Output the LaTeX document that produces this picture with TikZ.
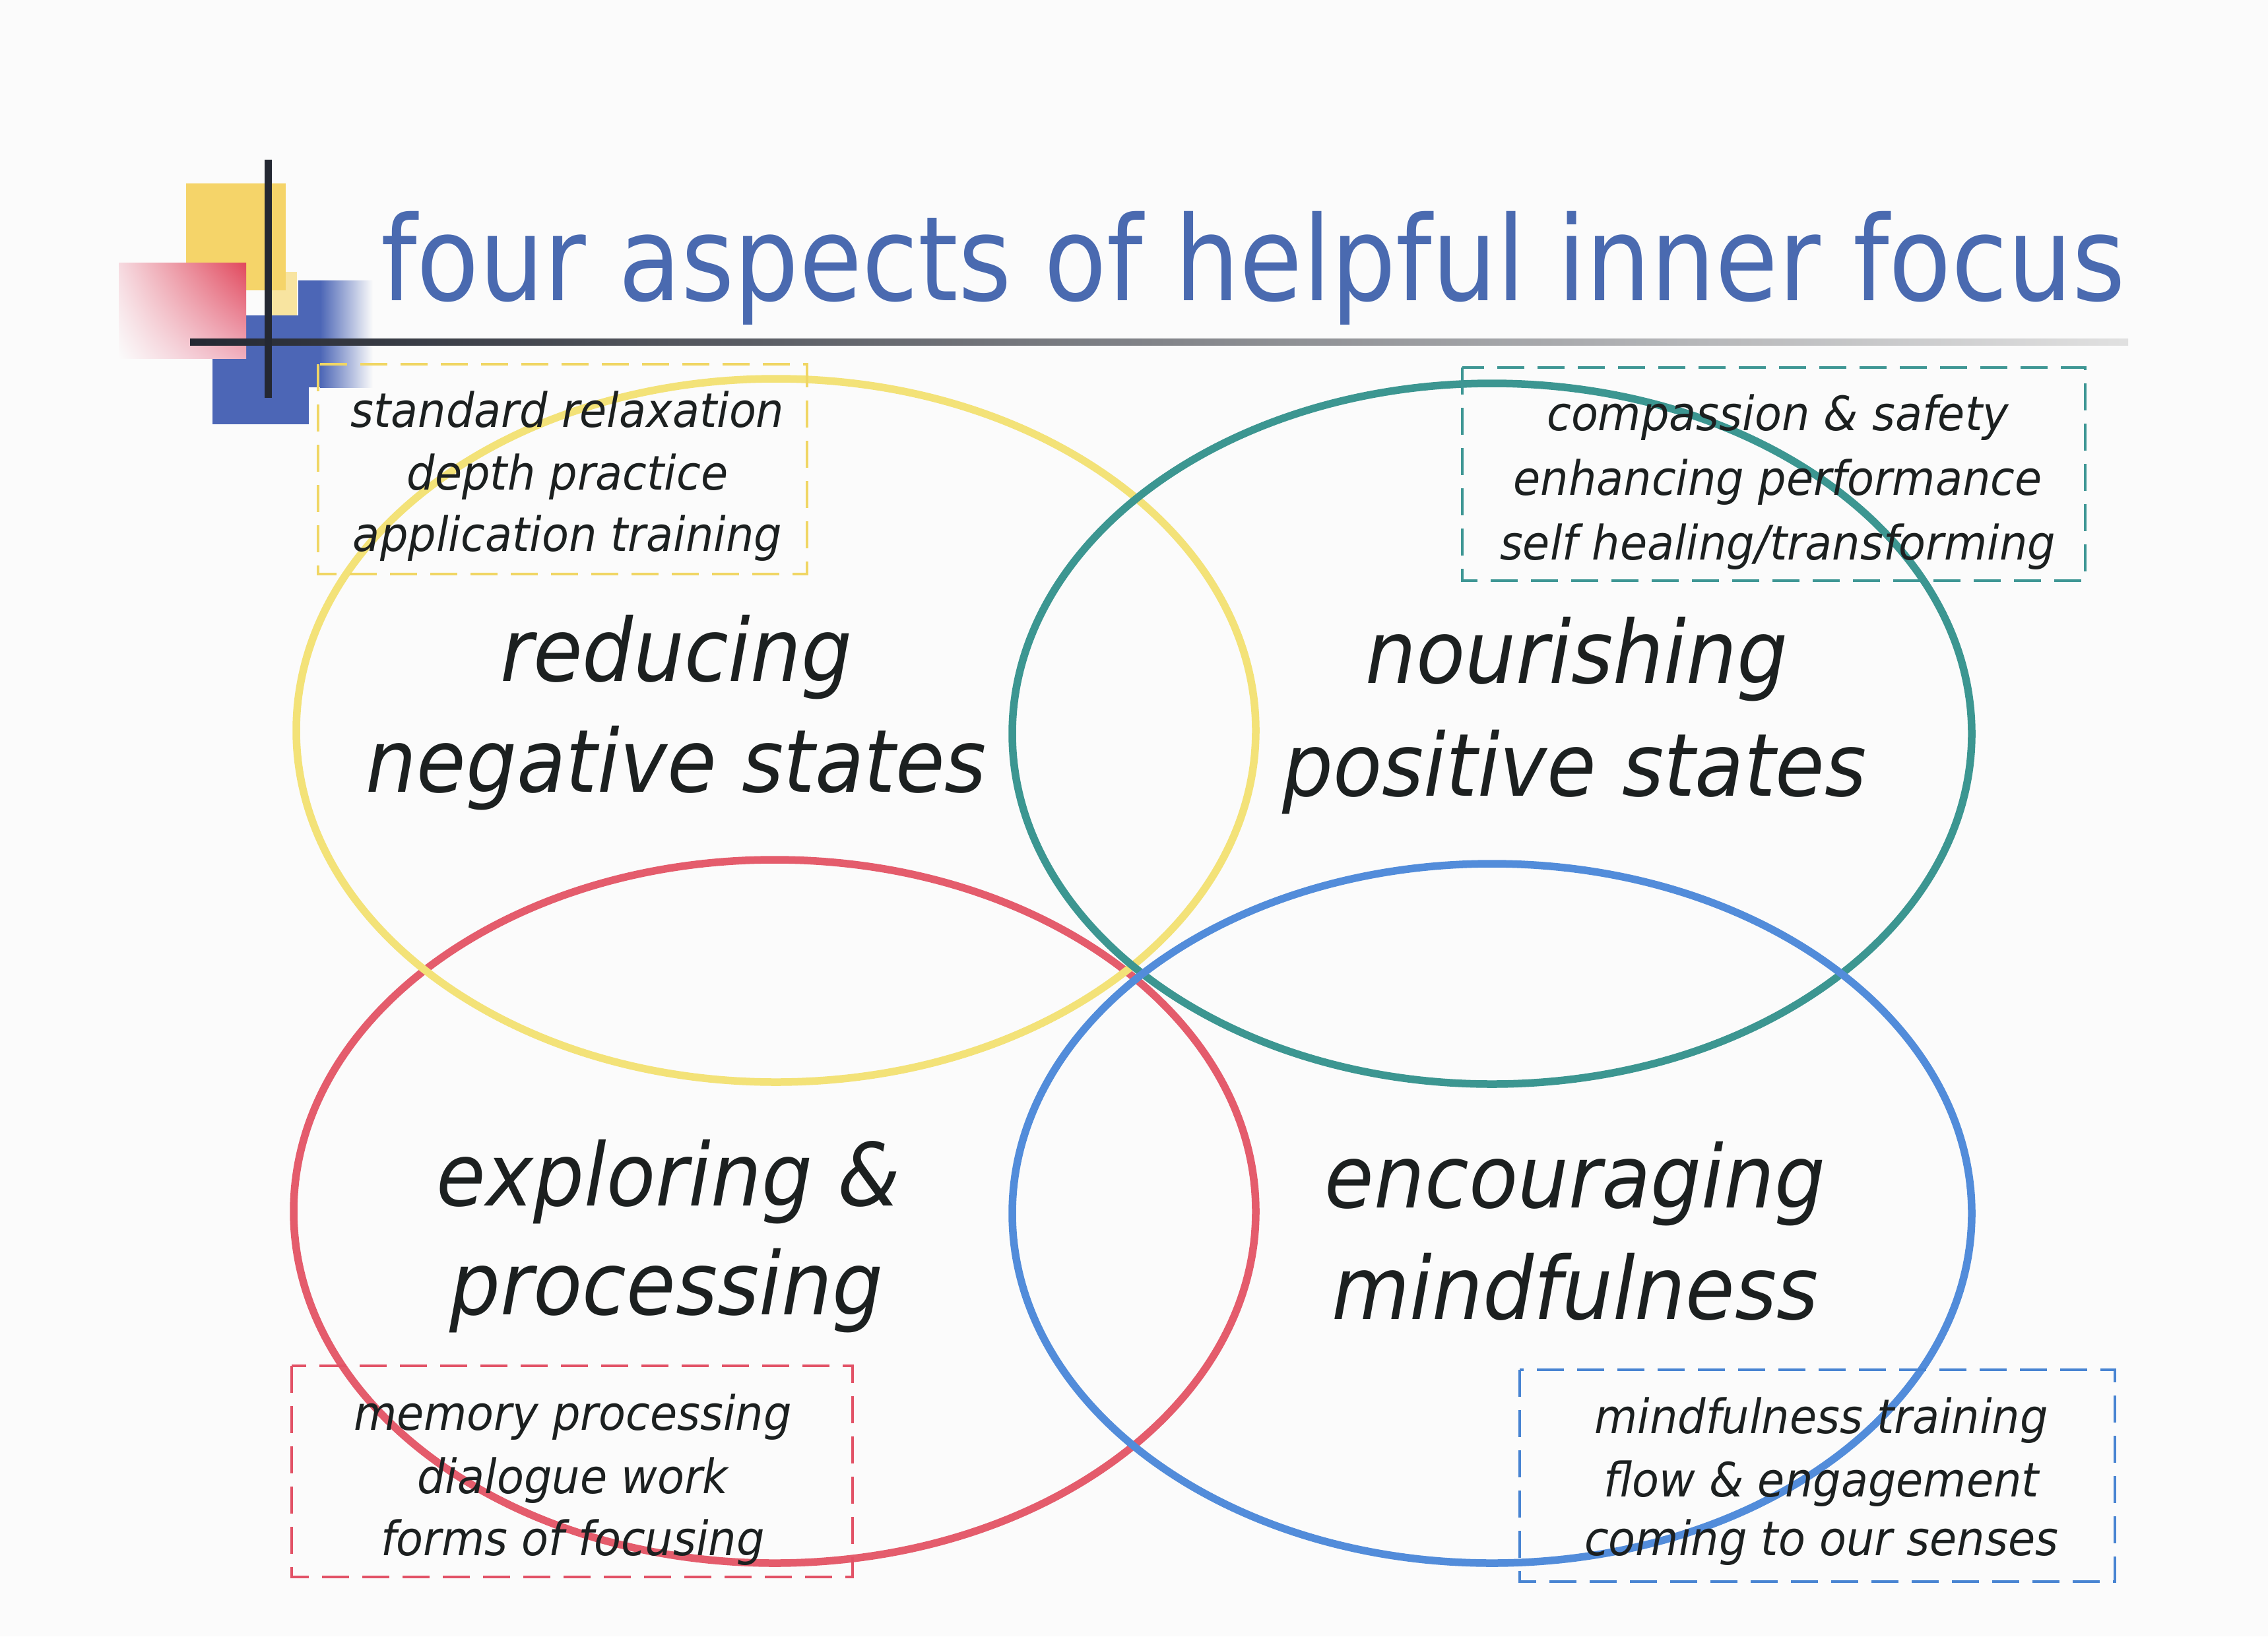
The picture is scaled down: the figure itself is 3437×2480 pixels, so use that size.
\documentclass[tikz,border=0pt]{standalone}
\usepackage{fontspec}
\usetikzlibrary{shadings}
\newfontfamily\titlefont[FakeStretch=0.87]{DejaVu Sans}
\newfontfamily\bodyfont[FakeStretch=0.92]{DejaVu Sans}
\newfontfamily\smallfont[FakeStretch=0.93]{DejaVu Sans}
\definecolor{bgc}{RGB}{251,251,251}
\definecolor{ink}{RGB}{28,32,32}
\definecolor{titleblue}{RGB}{74,106,176}
\definecolor{cyellow}{RGB}{243,226,120}
\definecolor{cteal}{RGB}{60,150,145}
\definecolor{cred}{RGB}{228,92,108}
\definecolor{cblue}{RGB}{82,140,218}
\definecolor{dyellow}{RGB}{240,214,100}
\definecolor{dteal}{RGB}{62,150,148}
\definecolor{dred}{RGB}{226,82,102}
\definecolor{dblue}{RGB}{72,132,210}
\definecolor{logoyellow}{RGB}{245,212,105}
\definecolor{logoyellowlight}{RGB}{248,228,160}
\definecolor{logoblue}{RGB}{76,102,182}
\definecolor{logored}{RGB}{225,72,92}
\definecolor{logopink}{RGB}{240,175,190}
\definecolor{logopinklight}{RGB}{246,218,224}
\definecolor{crossink}{RGB}{36,40,50}
\begin{document}
\begin{tikzpicture}[x=0.2pt,y=-0.2pt,
  bigtxt/.style={font=\bodyfont\itshape\fontsize{26.4}{30}\selectfont, text=ink, anchor=base, inner sep=0pt},
  smalltxt/.style={font=\smallfont\itshape\fontsize{14.4}{17}\selectfont, text=ink, anchor=base, inner sep=0pt},
  titletxt/.style={font=\titlefont\fontsize{35.6}{40}\selectfont, text=titleblue, anchor=base west, inner sep=0pt},
  ring/.style={line width=2.3pt},
  dbox/.style={line width=0.8pt, dash pattern=on 8.2pt off 4pt},
]
\useasboundingbox (0,0) rectangle (3437,2480);
\fill[bgc] (0,0) rectangle (3437,2480);

% logo
\fill[logoyellowlight] (410,412) rectangle (450,478);
\fill[logoyellow] (282,278) rectangle (433,440);
\fill[logoblue] (322,478) rectangle (468,643);
\fill[logoblue] (373,478) rectangle (486,587);
\fill[logoblue] (452,425) rectangle (486,478);
\shade[left color=logoblue, right color=bgc] (485,425) rectangle (565,587);
\shade[upper left=logopinklight, upper right=logored, lower left=bgc, lower right=logopink] (180,398) rectangle (373,543);
\shade[left color=crossink, right color=black!12] (288,513) rectangle (3225,523);
\draw[crossink, line width=2.2pt] (406,242) -- (406,603);

% title
\node[titletxt] (title) at (576,455) {four aspects of helpful inner focus};

% circles
\draw[ring, cred] (1174,1836) ellipse [x radius=729, y radius=533];
\draw[ring, cyellow] (1176,1107) ellipse [x radius=727, y radius=533];
\draw[ring, cteal] (2261,1112) ellipse [x radius=727, y radius=531];
\draw[ring, cblue] (2261,1839) ellipse [x radius=727, y radius=530];

% dashed boxes
\draw[dbox, dyellow] (482,552) rectangle (1223,870);
\draw[dbox, dteal] (2216,557) rectangle (3160,880);
\draw[dbox, dred] (442,2070) rectangle (1292,2390);
\draw[dbox, dblue] (2303,2076) rectangle (3205,2397);

% main labels
\node[bigtxt] (rn1) at (1025,1032) {reducing};
\node[bigtxt] (rn2) at (1025,1200) {negative states};
\node[bigtxt] (np1) at (2389,1035) {nourishing};
\node[bigtxt] (np2) at (2386,1206) {positive states};
\node[bigtxt] (ep1) at (1013,1827) {exploring \&};
\node[bigtxt] (ep2) at (1010,1992) {processing};
\node[bigtxt] (em1) at (2387,1830) {encouraging};
\node[bigtxt] (em2) at (2387,1999) {mindfulness};

% box texts
\node[smalltxt] (y1) at (860,647) {standard relaxation};
\node[smalltxt] (y2) at (860,742) {depth practice};
\node[smalltxt] (y3) at (860,835) {application training};
\node[smalltxt] (t1) at (2694,652) {compassion \& safety};
\node[smalltxt] (t2) at (2694,750) {enhancing performance};
\node[smalltxt] (t3) at (2694,848) {self healing/transforming};
\node[smalltxt] (r1) at (868,2167) {memory processing};
\node[smalltxt] (r2) at (868,2263) {dialogue work};
\node[smalltxt] (r3) at (868,2357) {forms of focusing};
\node[smalltxt] (b1) at (2760,2172) {mindfulness training};
\node[smalltxt] (b2) at (2760,2268) {flow \& engagement};
\node[smalltxt] (b3) at (2760,2357) {coming to our senses};
\end{tikzpicture}
\end{document}
